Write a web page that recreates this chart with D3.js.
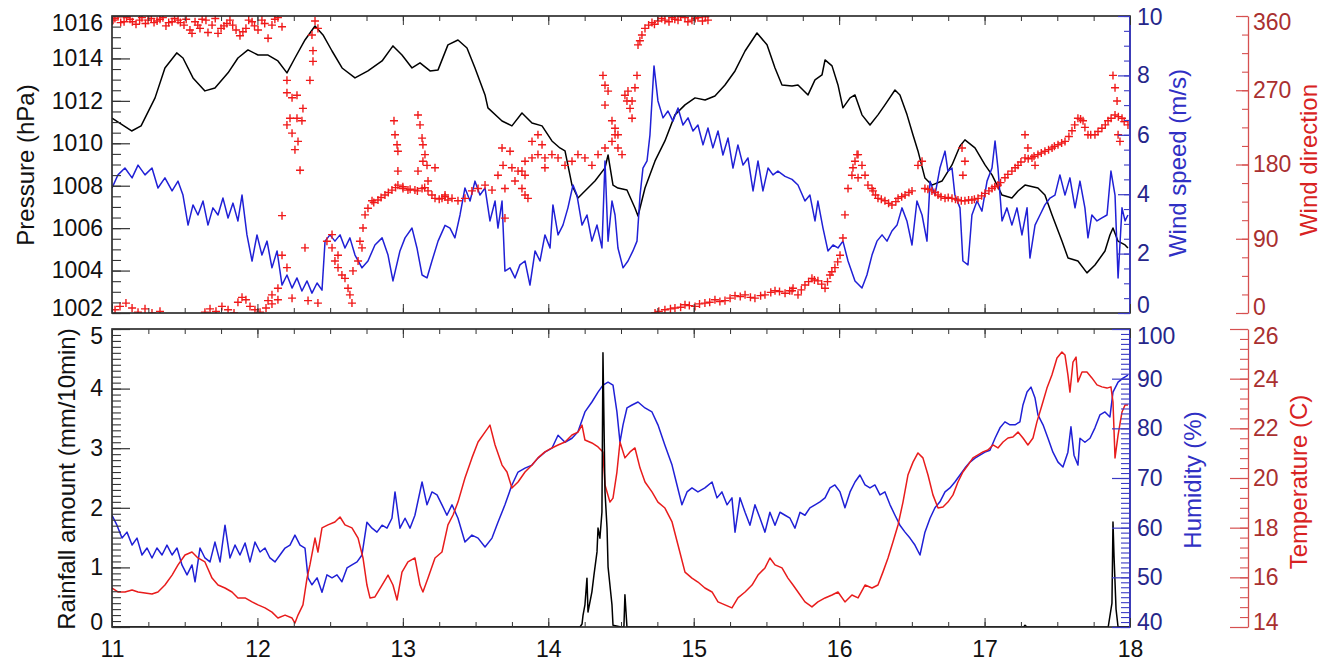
<!DOCTYPE html>
<html>
<head>
<meta charset="utf-8">
<script src="https://cdn.jsdelivr.net/npm/d3@7"></script>
<style>
  html, body { margin: 0; padding: 0; background: #fff; }
  svg { display: block; }
</style>
</head>
<body>
<svg id="chart" width="1327" height="664"></svg>
<script>
// ---- tick labels ----
const dayTicks = [11, 12, 13, 14, 15, 16, 17, 18];
const pressureTicks = [1002, 1004, 1006, 1008, 1010, 1012, 1014, 1016];
const windSpeedTicks = [0, 2, 4, 6, 8, 10];
const windDirTicks = [0, 90, 180, 270, 360];
const rainTicks = [0, 1, 2, 3, 4, 5];
const humidityTicks = [40, 50, 60, 70, 80, 90, 100];
const temperatureTicks = [14, 16, 18, 20, 22, 24, 26];

// ---- station series: [day, value] ----
const pressure = [
  [11.000,1011.19],[11.135,1010.58],[11.200,1010.82],[11.296,1012.14],[11.364,1013.55],[11.445,1014.26],[11.488,1014.02],
  [11.557,1013.08],[11.639,1012.47],[11.708,1012.61],[11.798,1013.32],[11.866,1014.02],[11.935,1014.40],[12.004,1014.16],
  [12.073,1014.16],[12.141,1013.88],[12.203,1013.32],[12.258,1014.02],[12.327,1014.87],[12.396,1015.53],[12.451,1015.11],
  [12.513,1014.35],[12.582,1013.55],[12.671,1013.08],[12.760,1013.41],[12.857,1013.88],[12.932,1014.59],[12.994,1014.16],
  [13.063,1013.55],[13.118,1013.79],[13.187,1013.41],[13.242,1013.46],[13.310,1014.64],[13.379,1014.87],[13.441,1014.49],
  [13.496,1013.55],[13.565,1012.28],[13.585,1011.67],[13.682,1011.05],[13.750,1010.82],[13.819,1011.43],[13.888,1010.96],
  [13.957,1010.82],[14.025,1010.11],[14.080,1009.78],[14.115,1009.64],[14.163,1008.03],[14.204,1007.42],[14.252,1007.75],
  [14.321,1008.22],[14.390,1008.84],[14.411,1009.45],[14.445,1008.03],[14.479,1007.89],[14.541,1007.80],[14.596,1006.95],
  [14.617,1006.57],[14.665,1007.89],[14.734,1009.17],[14.802,1010.11],[14.871,1011.34],[14.940,1011.81],[15.009,1012.14],
  [15.078,1012.04],[15.146,1012.23],[15.215,1012.75],[15.284,1013.41],[15.353,1014.35],[15.435,1015.20],[15.504,1014.64],
  [15.559,1013.55],[15.607,1012.75],[15.676,1012.70],[15.717,1012.75],[15.786,1012.28],[15.834,1012.99],[15.882,1013.22],
  [15.903,1013.93],[15.951,1013.65],[15.992,1012.75],[16.026,1011.67],[16.075,1012.14],[16.109,1012.28],[16.157,1011.34],
  [16.212,1010.86],[16.267,1011.34],[16.315,1011.81],[16.384,1012.51],[16.418,1012.28],[16.467,1011.34],[16.508,1010.39],
  [16.542,1009.64],[16.590,1008.36],[16.638,1008.03],[16.707,1008.22],[16.776,1008.98],[16.831,1009.87],[16.865,1010.16],
  [16.934,1009.78],[17.003,1008.98],[17.051,1008.51],[17.120,1007.56],[17.188,1007.42],[17.230,1007.75],[17.278,1008.03],
  [17.367,1007.89],[17.415,1007.56],[17.464,1006.62],[17.532,1005.39],[17.574,1004.59],[17.642,1004.45],[17.704,1003.89],
  [17.759,1004.26],[17.828,1004.92],[17.862,1005.68],[17.883,1006.01],[17.917,1005.39],[17.966,1005.21],[17.986,1005.06]
];

const windSpeed = [
  [11.000,4.21],[11.041,4.65],[11.089,4.88],[11.138,4.55],[11.179,4.98],[11.227,4.65],[11.275,4.88],[11.316,4.21],
  [11.364,4.55],[11.413,4.11],[11.454,4.44],[11.488,3.97],[11.523,2.96],[11.557,3.64],[11.591,3.30],[11.626,3.77],
  [11.660,2.96],[11.694,3.54],[11.729,3.30],[11.763,3.87],[11.798,3.20],[11.832,3.70],[11.866,3.10],[11.894,3.97],
  [11.928,2.63],[11.963,1.75],[11.997,2.63],[12.031,1.95],[12.066,2.42],[12.100,1.52],[12.135,2.09],[12.169,0.94],
  [12.203,1.28],[12.238,0.84],[12.272,1.18],[12.306,0.74],[12.341,1.08],[12.375,0.67],[12.410,1.01],[12.444,0.77],
  [12.465,2.42],[12.499,2.63],[12.533,2.42],[12.568,2.63],[12.602,2.19],[12.636,2.53],[12.671,1.95],[12.719,1.52],
  [12.760,1.75],[12.808,2.29],[12.857,2.53],[12.898,1.95],[12.932,1.08],[12.980,2.09],[13.015,2.53],[13.063,2.86],
  [13.097,2.19],[13.132,1.28],[13.166,1.18],[13.200,1.75],[13.242,2.42],[13.290,2.95],[13.324,2.86],[13.358,2.53],
  [13.393,3.30],[13.427,4.21],[13.462,3.77],[13.496,4.44],[13.530,3.97],[13.565,4.21],[13.599,3.10],[13.634,3.77],
  [13.654,2.86],[13.682,3.77],[13.702,1.41],[13.737,1.52],[13.771,1.18],[13.805,1.62],[13.840,1.75],[13.874,0.94],
  [13.909,2.09],[13.943,1.75],[13.977,2.63],[14.012,2.19],[14.032,3.64],[14.067,2.63],[14.101,2.96],[14.135,3.54],
  [14.170,4.31],[14.197,3.97],[14.232,2.96],[14.266,3.30],[14.300,2.42],[14.335,2.96],[14.369,2.19],[14.390,5.12],
  [14.411,2.42],[14.438,3.77],[14.459,3.30],[14.479,2.19],[14.514,1.52],[14.548,1.75],[14.582,2.09],[14.610,2.42],
  [14.631,3.97],[14.651,4.88],[14.679,5.12],[14.699,5.99],[14.727,8.32],[14.754,7.14],[14.789,6.57],[14.823,6.80],
  [14.857,6.46],[14.892,6.90],[14.926,6.33],[14.961,6.57],[14.995,6.13],[15.029,6.33],[15.064,5.66],[15.098,6.23],
  [15.132,5.56],[15.167,6.13],[15.201,5.32],[15.236,5.89],[15.270,4.88],[15.304,5.66],[15.339,4.98],[15.373,5.22],
  [15.408,4.11],[15.442,5.12],[15.476,4.11],[15.511,4.88],[15.545,4.65],[15.579,4.78],[15.628,4.60],[15.676,4.50],
  [15.717,4.31],[15.765,3.77],[15.799,3.97],[15.834,3.10],[15.854,3.77],[15.889,2.86],[15.923,2.09],[15.958,2.29],
  [15.992,2.19],[16.026,2.42],[16.061,1.75],[16.109,1.08],[16.157,0.84],[16.191,1.28],[16.226,1.95],[16.260,2.42],
  [16.295,2.63],[16.329,2.42],[16.363,2.76],[16.398,2.96],[16.432,3.54],[16.466,3.10],[16.501,2.29],[16.535,3.77],
  [16.570,3.30],[16.604,2.42],[16.625,4.44],[16.659,3.97],[16.693,4.88],[16.728,5.45],[16.748,4.78],[16.776,4.88],
  [16.796,3.97],[16.831,3.54],[16.851,1.75],[16.886,1.62],[16.913,3.30],[16.948,3.77],[16.982,3.43],[17.017,4.44],
  [17.051,4.88],[17.072,5.79],[17.092,4.88],[17.120,3.10],[17.154,3.54],[17.188,2.96],[17.223,3.54],[17.257,2.63],
  [17.292,3.54],[17.312,1.85],[17.347,2.96],[17.381,3.30],[17.415,3.64],[17.450,3.87],[17.484,3.97],[17.518,4.65],
  [17.553,3.97],[17.587,4.55],[17.622,3.54],[17.656,4.44],[17.690,3.54],[17.711,2.53],[17.738,3.30],[17.773,3.10],
  [17.807,3.20],[17.842,3.30],[17.869,4.78],[17.897,3.97],[17.918,1.18],[17.945,3.54],[17.966,3.10],[17.986,3.30]
];

const windDir = [
  [11.007,355],[11.041,359],[11.083,353],[11.124,356],[11.165,350],[11.206,358],[11.248,355],[11.289,352],[11.330,356],
  [11.371,348],[11.413,353],[11.454,355],[11.495,349],[11.536,343],[11.571,353],[11.605,345],[11.646,355],[11.688,349],
  [11.729,339],[11.770,348],[11.811,355],[11.853,343],[11.880,336],[11.921,345],[11.963,353],[12.004,343],[12.031,355],
  [12.073,333],[12.100,349],[12.141,358],[12.169,347],
  [11.020,357],[11.060,352],[11.100,358],[11.140,353],[11.190,355],[11.230,351],[11.270,357],[11.310,354],[11.350,358],
  [11.390,352],[11.430,357],[11.470,352],[11.510,356],[11.550,339],[11.590,349],[11.620,356],[11.660,340],[11.710,357],
  [11.750,345],[11.790,351],[11.830,349],[11.900,341],[11.940,355],[11.980,348],[12.050,351],[12.120,356],
  [11.021,4],[11.055,8],[11.096,12],[11.138,6],[11.179,1],[11.227,5],[11.275,0],[11.330,2],[11.639,1],[11.674,5],
  [11.715,2],[11.756,8],[11.798,4],[11.839,0],[11.866,13],[11.894,19],[11.921,16],[11.949,8],[11.983,4],[12.018,1],
  [12.059,6],[12.100,11],[12.141,16],
  [12.203,267],[12.238,261],[12.272,264],[12.313,248],[12.203,228],[12.224,236],[12.272,236],[12.306,233],[12.238,218],
  [12.279,208],[12.258,198],[12.293,173],[12.169,118],[12.203,282],[12.375,337],[12.396,354],[12.416,345],[12.382,318],
  [12.382,305],[12.361,282],
  [12.073,15],[12.100,22],[12.141,30],[12.203,55],[12.169,70],[12.327,79],[12.238,18],[12.348,15],[12.416,12],[12.478,87],
  [12.513,79],[12.533,63],[12.554,55],[12.581,46],[12.602,42],[12.623,30],[12.636,22],[12.650,12],[12.657,51],[12.692,63],
  [12.719,79],[12.513,95],[12.554,70],
  [12.705,87],[12.726,103],[12.740,119],[12.760,127],[12.788,136],[12.829,137],[12.877,143],[12.925,149],[12.966,155],
  [13.001,151],[13.035,149],[13.083,149],[13.132,151],[13.173,148],[13.221,139],[13.269,139],[13.310,137],
  [12.800,134],[12.850,140],[12.900,146],[12.950,152],[13.000,153],[13.050,150],[13.100,148],[13.150,152],[13.200,143],
  [13.250,138],[13.290,141],
  [12.939,233],[12.946,216],[12.960,204],[12.966,196],[12.966,172],[13.104,240],[13.118,228],[13.132,212],[13.138,204],
  [13.152,192],[13.138,184],[13.166,179],[13.173,160],[13.221,176],[13.104,172],
  [13.290,143],[13.338,139],[13.379,136],[13.427,139],[13.475,148],[13.517,151],[13.565,155],[13.613,149],[13.654,167],
  [13.689,179],[13.750,176],[13.792,172],[13.840,184],[13.888,188],[13.929,192],[13.977,188],[14.025,192],[14.067,188],
  [14.115,179],[14.163,184],[14.204,192],[14.252,188],[14.300,179],[14.342,192],[14.390,200],[14.438,208],[14.479,216],
  [13.682,200],[13.737,196],[13.702,151],[13.771,160],[13.819,151],[13.840,143],[13.860,139],[13.702,115],[13.840,167],
  [13.888,208],[13.929,216],[13.957,204],[13.977,176],[13.819,172],
  [14.376,288],[14.390,276],[14.411,269],[14.390,252],[14.438,233],[14.459,216],[14.527,264],[14.541,257],[14.562,248],
  [14.548,269],[14.596,273],[14.610,288],[14.576,236],[14.479,200],[14.507,192],[14.459,224],[14.576,257],
  [14.617,325],[14.644,337],[14.665,345],[14.713,352],[14.754,354],[14.802,355],[14.851,358],[14.892,355],[14.940,358],
  [14.988,355],[15.029,358],[15.098,355],[14.630,330],[14.690,349],[14.730,350],[14.780,357],[14.830,353],[14.870,356],
  [14.910,359],[14.960,353],[15.010,357],[15.060,354],[15.080,359],
  [14.734,0],[14.802,4],[14.871,6],[14.940,10],[15.009,8],[15.077,12],[15.146,16],[15.215,15],[15.284,21],[15.353,22],
  [15.421,18],[15.490,22],[15.559,27],[15.628,24],[15.683,30],
  [14.760,2],[14.840,5],[14.910,7],[14.970,9],[15.040,11],[15.110,13],[15.180,14],[15.250,18],[15.320,20],[15.390,19],
  [15.460,21],[15.530,25],[15.590,26],[15.660,27],
  [15.676,27],[15.717,22],[15.765,34],[15.813,42],[15.854,39],[15.903,30],[15.937,46],[15.971,55],[16.006,70],[16.026,91],
  [16.040,119],[16.061,151],[16.088,167],[16.109,184],[16.130,192],[16.157,179],[16.178,167],[16.198,155],[16.233,148],
  [16.267,139],[16.315,136],[16.363,131],[16.405,139],[16.453,143],[16.501,148],[16.542,179],[16.570,184],[16.590,151],
  [16.638,148],[16.680,143],[16.728,139],[16.776,139],[16.817,137],[16.865,136],[16.913,137],[16.955,139],[17.003,145],
  [17.051,151],[17.092,155],[17.140,164],[17.188,172],[17.230,179],[17.278,188],[17.326,188],[17.367,192],[17.415,196],
  [17.464,200],[17.505,204],[17.553,208],[17.601,221],[17.642,236],[17.677,233],[17.711,216],[17.759,216],[17.807,224],
  [17.849,233],[17.897,240],[17.945,236],[17.986,228],
  [16.123,192],[16.095,176],[16.130,164],[16.226,151],[16.845,200],[16.865,184],[16.851,167],[17.278,216],[17.298,200],
  [17.347,179],[17.883,288],[17.897,273],[17.911,257],[17.918,216],[17.931,208],
  [15.740,28],[15.790,38],[15.830,40],[15.880,35],[15.920,38],[15.950,50],[15.990,62],[16.250,143],[16.290,138],
  [16.340,133],[16.390,135],[16.430,141],[16.480,146],[16.610,150],[16.660,146],[16.700,141],[16.750,140],[16.800,138],
  [16.840,136],[16.890,137],[16.930,138],[16.980,142],[17.030,148],[17.070,153],[17.110,158],[17.160,168],[17.210,176],
  [17.250,183],[17.300,187],[17.340,190],[17.390,194],[17.440,198],[17.480,202],[17.530,206],[17.580,214],[17.620,228],
  [17.660,235],[17.690,225],[17.730,216],[17.780,220],[17.830,228],[17.870,236],[17.920,238],[17.960,232]
];

const humidity = [
  [11.000,62.5],[11.034,60.5],[11.069,57.9],[11.103,59.1],[11.138,56.5],[11.172,57.9],[11.206,54.5],[11.241,55.9],
  [11.275,53.9],[11.309,55.9],[11.344,54.5],[11.378,56.5],[11.413,54.5],[11.447,55.9],[11.481,52.5],[11.516,50.5],
  [11.550,52.5],[11.571,49.1],[11.605,55.9],[11.639,53.9],[11.674,53.1],[11.708,57.1],[11.743,53.1],[11.777,60.5],
  [11.811,53.9],[11.846,56.5],[11.880,54.5],[11.915,56.9],[11.949,53.1],[11.983,57.1],[12.018,55.1],[12.052,55.9],
  [12.086,53.9],[12.121,53.1],[12.155,54.5],[12.190,55.9],[12.224,56.5],[12.258,58.5],[12.293,56.5],[12.327,55.9],
  [12.348,49.9],[12.375,48.5],[12.410,49.9],[12.444,47.0],[12.478,50.5],[12.513,49.9],[12.547,50.5],[12.581,49.1],
  [12.616,51.9],[12.650,52.5],[12.685,53.1],[12.719,54.5],[12.753,61.1],[12.788,59.9],[12.822,59.1],[12.857,60.5],
  [12.891,59.9],[12.925,61.9],[12.946,67.2],[12.980,59.9],[13.015,61.9],[13.049,59.9],[13.083,62.5],[13.132,69.2],
  [13.166,64.6],[13.200,67.2],[13.235,66.6],[13.269,64.6],[13.303,62.5],[13.338,64.6],[13.379,61.9],[13.427,57.1],
  [13.475,58.5],[13.517,57.9],[13.565,56.1],[13.613,57.9],[13.654,61.1],[13.702,64.6],[13.750,68.6],[13.792,71.2],
  [13.840,72.0],[13.888,72.6],[13.929,74.0],[13.977,75.2],[14.025,76.0],[14.067,78.6],[14.115,77.2],[14.163,78.0],
  [14.204,79.3],[14.252,83.3],[14.300,85.3],[14.342,87.3],[14.376,88.7],[14.411,89.3],[14.445,88.7],[14.472,83.3],
  [14.493,77.2],[14.514,80.7],[14.541,84.1],[14.576,84.7],[14.617,85.3],[14.665,84.1],[14.713,83.3],[14.754,80.7],
  [14.802,76.6],[14.851,72.6],[14.885,68.6],[14.919,64.6],[14.954,67.2],[14.988,68.0],[15.029,67.2],[15.077,68.0],
  [15.126,69.2],[15.160,66.0],[15.194,67.2],[15.229,64.6],[15.263,66.0],[15.284,59.1],[15.318,66.0],[15.353,63.1],
  [15.387,60.5],[15.421,64.6],[15.456,61.9],[15.490,59.1],[15.524,63.1],[15.559,60.5],[15.593,63.1],[15.628,62.5],
  [15.662,61.9],[15.696,59.9],[15.731,63.1],[15.765,62.5],[15.799,64.0],[15.834,64.6],[15.868,65.2],[15.903,66.0],
  [15.937,68.0],[15.971,68.6],[16.006,67.2],[16.040,64.0],[16.075,67.2],[16.109,69.2],[16.143,70.6],[16.178,68.6],
  [16.212,68.0],[16.246,68.6],[16.281,66.6],[16.315,67.2],[16.350,64.6],[16.384,62.5],[16.418,60.5],[16.453,59.1],
  [16.487,57.9],[16.521,56.5],[16.556,54.5],[16.590,59.1],[16.625,61.9],[16.659,64.0],[16.693,65.2],[16.728,67.2],
  [16.762,68.0],[16.796,69.2],[16.831,70.6],[16.865,72.0],[16.900,73.2],[16.934,74.0],[16.968,74.6],[17.003,75.2],
  [17.037,75.6],[17.072,78.0],[17.106,80.1],[17.140,81.3],[17.175,80.7],[17.209,80.7],[17.243,81.3],[17.264,84.7],
  [17.292,87.3],[17.319,88.3],[17.347,86.1],[17.367,82.7],[17.402,80.7],[17.436,78.0],[17.470,75.2],[17.505,73.2],
  [17.539,72.2],[17.573,75.2],[17.594,80.3],[17.615,74.6],[17.642,72.6],[17.656,78.0],[17.690,77.2],[17.725,78.0],
  [17.759,80.1],[17.793,82.7],[17.828,83.3],[17.862,82.3],[17.883,87.3],[17.918,89.3],[17.952,90.1],[17.986,90.7]
];

const temperature = [
  [11.000,15.57],[11.041,15.41],[11.089,15.41],[11.138,15.49],[11.179,15.41],[11.227,15.37],[11.275,15.33],[11.316,15.41],
  [11.364,15.69],[11.413,16.09],[11.454,16.50],[11.502,16.90],[11.550,17.02],[11.591,16.78],[11.639,16.62],[11.688,15.97],
  [11.729,15.69],[11.777,15.57],[11.825,15.41],[11.866,15.17],[11.915,15.17],[11.963,15.01],[12.004,14.89],[12.052,14.77],
  [12.100,14.60],[12.141,14.36],[12.190,14.48],[12.238,14.36],[12.258,14.16],[12.279,14.48],[12.313,14.89],[12.341,15.97],
  [12.361,16.50],[12.396,17.58],[12.416,17.02],[12.444,17.99],[12.485,18.11],[12.533,18.23],[12.568,18.43],[12.602,18.11],
  [12.650,17.99],[12.692,17.58],[12.726,16.78],[12.753,15.69],[12.774,15.17],[12.808,15.21],[12.857,15.69],[12.898,16.09],
  [12.932,15.69],[12.960,15.09],[12.994,16.21],[13.035,16.62],[13.083,16.78],[13.118,15.69],[13.138,15.41],[13.173,15.97],
  [13.221,16.78],[13.269,17.02],[13.310,18.11],[13.345,18.51],[13.379,19.03],[13.427,20.00],[13.475,20.81],[13.517,21.45],
  [13.565,21.85],[13.599,22.13],[13.634,21.33],[13.682,20.52],[13.716,20.24],[13.750,19.60],[13.792,19.84],[13.840,20.24],
  [13.888,20.52],[13.929,20.81],[13.977,21.05],[14.025,21.21],[14.067,21.33],[14.115,21.45],[14.163,21.73],[14.204,21.85],
  [14.232,22.13],[14.252,21.53],[14.300,21.41],[14.342,21.25],[14.376,21.05],[14.390,19.72],[14.424,19.03],[14.445,19.19],
  [14.472,20.24],[14.493,21.45],[14.527,20.81],[14.562,21.05],[14.596,21.21],[14.631,20.40],[14.665,19.84],[14.713,19.44],
  [14.754,19.03],[14.802,18.79],[14.851,18.23],[14.892,17.30],[14.940,16.21],[14.988,15.97],[15.029,15.81],[15.077,15.57],
  [15.126,15.41],[15.167,15.01],[15.215,14.89],[15.263,14.77],[15.304,15.17],[15.353,15.41],[15.401,15.69],[15.442,16.09],
  [15.490,16.38],[15.524,16.78],[15.559,16.50],[15.607,16.38],[15.648,15.97],[15.683,15.69],[15.717,15.41],[15.765,15.01],
  [15.813,14.81],[15.854,15.01],[15.903,15.17],[15.951,15.29],[15.992,15.41],[16.040,15.01],[16.088,15.29],[16.130,15.17],
  [16.178,15.69],[16.226,15.57],[16.267,15.69],[16.301,16.21],[16.336,16.78],[16.370,17.42],[16.405,18.11],[16.439,19.03],
  [16.473,20.12],[16.508,20.64],[16.542,21.01],[16.576,20.81],[16.611,20.12],[16.645,19.32],[16.680,18.79],[16.714,18.83],
  [16.748,19.03],[16.783,19.32],[16.817,19.84],[16.851,20.24],[16.886,20.52],[16.920,20.81],[16.955,20.93],[16.989,21.05],
  [17.023,21.13],[17.058,21.33],[17.092,21.21],[17.127,21.45],[17.161,21.61],[17.195,21.65],[17.230,21.85],[17.264,21.61],
  [17.298,21.33],[17.333,21.61],[17.360,22.26],[17.395,22.94],[17.429,23.62],[17.463,24.15],[17.498,24.83],[17.532,25.07],
  [17.553,24.95],[17.573,24.15],[17.587,23.46],[17.608,24.67],[17.629,24.87],[17.642,23.87],[17.670,24.27],[17.704,24.27],
  [17.738,24.03],[17.773,23.75],[17.807,23.67],[17.842,23.62],[17.869,23.67],[17.883,23.06],[17.897,20.81],[17.918,21.73],
  [17.945,22.66],[17.966,22.94],[17.986,22.94]
];

const rainfall = [
  [11.000,0],[14.218,0],[14.232,0.05],[14.239,0.20],[14.252,0.37],[14.266,0.82],[14.273,0.25],[14.300,0.59],[14.314,0.87],
  [14.335,1.26],[14.342,1.66],[14.355,1.49],[14.369,1.93],[14.376,4.60],[14.390,2.27],[14.404,1.66],[14.411,1.01],
  [14.424,0.70],[14.438,0.37],[14.445,0.03],[14.500,0],[14.520,0],[14.527,0.54],[14.541,0],[17.270,0],[17.278,0.03],
  [17.292,0],[17.850,0],[17.876,0.40],[17.883,1.76],[17.890,1.20],[17.904,0.30],[17.918,0],[18.000,0]
];

// ---- layout ----
const FONT = '"Liberation Sans", Arial, Helvetica, sans-serif';
const L = 112, R = 1130;
const T1 = 16, B1 = 313;     // upper panel
const T2 = 329, B2 = 627;    // lower panel
const AX2 = 1248;            // offset right axes
const BLACK = "#111", BLUE = "#2020d6", RED = "#e81c1c";
const BLUE_AX = "#3a3ac4", BLUE_TXT = "#26268a", BLUE_TTL = "#3030c4";
const RED_AX = "#d65050", RED_TXT = "#a93030", RED_TTL = "#d82222";

const svg = d3.select("#chart");
svg.append("rect").attr("width", 1327).attr("height", 664).attr("fill", "#fff");

const x = d3.scaleLinear([11, 18], [L, R]);
const yP = d3.scaleLinear([1002, 1016], [B1, T1]);
const yWS = d3.scaleLinear([0, 10], [B1, T1]);
const yWD = d3.scaleLinear([0, 360], [B1, T1]);
const yR = d3.scaleLinear([0, 5], [B2, T2]);
const yH = d3.scaleLinear([40, 100], [B2, T2]);
const yT = d3.scaleLinear([14, 26], [B2, T2]);

const steps = (a, b, s) => d3.range(0, Math.round((b - a) / s) + 1).map(i => +(a + i * s).toFixed(4));

// clip regions
const defs = svg.append("defs");
defs.append("clipPath").attr("id", "clipTop").append("rect")
  .attr("x", L).attr("y", T1).attr("width", R - L).attr("height", B1 - T1);
defs.append("clipPath").attr("id", "clipBot").append("rect")
  .attr("x", L).attr("y", T2).attr("width", R - L).attr("height", B2 - T2);

// generic vertical axis: ticks point into the plot, labels outside
function vAxis(opts) {
  const { scale, xPos, side, major, minor, majorLen, minorLen, pad, tickColor, textColor, domainLine, nudgeTop = 6, nudgeBot = 6 } = opts;
  const make = side === "left" ? d3.axisLeft : d3.axisRight;
  const gMin = svg.append("g").attr("transform", `translate(${xPos},0)`)
    .call(make(scale).tickValues(minor).tickSizeInner(-minorLen).tickSizeOuter(0).tickFormat(""));
  gMin.select(".domain").remove();
  gMin.attr("color", tickColor).selectAll("line").attr("stroke-width", 1.1);

  const gMaj = svg.append("g").attr("transform", `translate(${xPos},0)`)
    .call(make(scale).tickValues(major).tickSizeInner(-majorLen).tickSizeOuter(0).tickPadding(pad).tickFormat(d3.format("d")));
  if (!domainLine) gMaj.select(".domain").remove();
  else gMaj.select(".domain").attr("stroke-width", 1.3);
  gMaj.attr("color", tickColor).attr("font-size", 23).attr("font-family", FONT);
  gMaj.selectAll("line").attr("stroke-width", 1.2);
  const [d0, d1] = scale.domain();
  gMaj.selectAll(".tick text")
    .attr("fill", textColor)
    .attr("y", d => d === d1 ? nudgeTop : d === d0 ? -nudgeBot : 0);
  return gMaj;
}

// day ticks along the upper and lower edge of a panel
function hAxes(yTop, yBottom, withLabels) {
  const minor = steps(11, 18, 0.25);
  [[d3.axisTop, yTop], [d3.axisBottom, yBottom]].forEach(([make, yPos]) => {
    const gMin = svg.append("g").attr("transform", `translate(0,${yPos})`)
      .call(make(x).tickValues(minor).tickSizeInner(-5).tickSizeOuter(0).tickFormat(""));
    gMin.select(".domain").remove();
    gMin.attr("color", "#333");
    const gMaj = svg.append("g").attr("transform", `translate(0,${yPos})`)
      .call(make(x).tickValues(dayTicks).tickSizeInner(-9).tickSizeOuter(0).tickPadding(14)
        .tickFormat(withLabels && make === d3.axisBottom ? d3.format("d") : ""));
    gMaj.select(".domain").remove();
    gMaj.attr("color", "#333").attr("font-size", 23).attr("font-family", FONT);
    gMaj.selectAll(".tick text").attr("fill", BLACK);
  });
}

// ---------- upper panel ----------
const gUpper = svg.append("g");
const lineP = d3.line().x(d => x(d[0])).y(d => yP(d[1]));
const lineWS = d3.line().x(d => x(d[0])).y(d => yWS(d[1]));

gUpper.append("path").datum(pressure).attr("clip-path", "url(#clipTop)")
  .attr("d", lineP).attr("fill", "none").attr("stroke", "#000").attr("stroke-width", 1.5).attr("stroke-linejoin", "round");
gUpper.append("path").datum(windSpeed).attr("clip-path", "url(#clipTop)")
  .attr("d", lineWS).attr("fill", "none").attr("stroke", BLUE).attr("stroke-width", 1.5).attr("stroke-linejoin", "round");

// wind direction as small plus markers
const plusPath = d3.symbolPlus ? d3.symbol(d3.symbolPlus, 23)() : "M-2.7,0H2.7M0,-2.7V2.7";
gUpper.append("g").attr("clip-path", "url(#clipTop)")
  .selectAll("path").data(windDir).join("path")
  .attr("transform", d => `translate(${x(d[0])},${yWD(d[1])})`)
  .attr("d", plusPath).attr("fill", "none").attr("stroke", "#f01a1a").attr("stroke-width", 1.4);

// frame
svg.append("rect").attr("x", L).attr("y", T1).attr("width", R - L).attr("height", B1 - T1)
  .attr("fill", "none").attr("stroke", "#222").attr("stroke-width", 1.6);
svg.append("line").attr("x1", R).attr("x2", R).attr("y1", T1).attr("y2", B1)
  .attr("stroke", BLUE_AX).attr("stroke-width", 1.8);

hAxes(T1, B1, false);

vAxis({ scale: yP, xPos: L, side: "left", major: pressureTicks, minor: steps(1002, 1016, 0.5),
  majorLen: 18, minorLen: 9, pad: 9, tickColor: "#333", textColor: BLACK, domainLine: false, nudgeTop: 7, nudgeBot: 5 });
vAxis({ scale: yWS, xPos: R, side: "right", major: windSpeedTicks, minor: steps(0, 10, 0.5),
  majorLen: 12, minorLen: 6, pad: 7, tickColor: BLUE_AX, textColor: BLUE_TXT, domainLine: false, nudgeTop: 1, nudgeBot: 8 });
vAxis({ scale: yWD, xPos: AX2, side: "right", major: windDirTicks, minor: steps(0, 360, 22.5),
  majorLen: 12, minorLen: 6, pad: 5, tickColor: RED_AX, textColor: RED_TXT, domainLine: true, nudgeTop: 6, nudgeBot: 6 });

// ---------- lower panel ----------
const gLower = svg.append("g");
const lineH = d3.line().x(d => x(d[0])).y(d => yH(d[1]));
const lineT = d3.line().x(d => x(d[0])).y(d => yT(d[1]));
const lineR = d3.line().x(d => x(d[0])).y(d => yR(d[1]));

gLower.append("path").datum(humidity).attr("clip-path", "url(#clipBot)")
  .attr("d", lineH).attr("fill", "none").attr("stroke", BLUE).attr("stroke-width", 1.5).attr("stroke-linejoin", "round");
gLower.append("path").datum(temperature).attr("clip-path", "url(#clipBot)")
  .attr("d", lineT).attr("fill", "none").attr("stroke", RED).attr("stroke-width", 1.5).attr("stroke-linejoin", "round");
gLower.append("path").datum(rainfall).attr("clip-path", "url(#clipBot)")
  .attr("d", lineR).attr("fill", "none").attr("stroke", "#000").attr("stroke-width", 1.5).attr("stroke-linejoin", "round");

svg.append("rect").attr("x", L).attr("y", T2).attr("width", R - L).attr("height", B2 - T2)
  .attr("fill", "none").attr("stroke", "#222").attr("stroke-width", 1.6);
svg.append("line").attr("x1", R).attr("x2", R).attr("y1", T2).attr("y2", B2)
  .attr("stroke", BLUE_AX).attr("stroke-width", 1.8);

hAxes(T2, B2, true);

vAxis({ scale: yR, xPos: L, side: "left", major: rainTicks, minor: steps(0, 5, 0.1),
  majorLen: 18, minorLen: 9, pad: 9, tickColor: "#333", textColor: BLACK, domainLine: false, nudgeTop: 7, nudgeBot: 5 });
vAxis({ scale: yH, xPos: R, side: "right", major: humidityTicks, minor: steps(40, 100, 1),
  majorLen: 18, minorLen: 9, pad: 7, tickColor: BLUE_AX, textColor: BLUE_TXT, domainLine: false, nudgeTop: 7, nudgeBot: 5 });
vAxis({ scale: yT, xPos: AX2, side: "right", major: temperatureTicks, minor: steps(14, 26, 0.4),
  majorLen: 18, minorLen: 8, pad: 5, tickColor: RED_AX, textColor: RED_TXT, domainLine: true, nudgeTop: 7, nudgeBot: 5 });

// ---------- axis titles ----------
function vTitle(text, cx, cy, color) {
  svg.append("text").attr("transform", `translate(${cx},${cy}) rotate(-90)`)
    .attr("text-anchor", "middle").attr("dominant-baseline", "central")
    .attr("font-family", FONT).attr("font-size", 24).attr("fill", color).text(text);
}
vTitle("Pressure (hPa)", 25, 165, BLACK);
vTitle("Wind speed (m/s)", 1177, 163, BLUE_TTL);
vTitle("Wind direction", 1308, 160, RED_TTL);
vTitle("Rainfall amount (mm/10min)", 66, 479, BLACK);
vTitle("Humidity (%)", 1192, 480, BLUE_TTL);
vTitle("Temperature (C)", 1298, 482, RED_TTL);
</script>
</body>
</html>
